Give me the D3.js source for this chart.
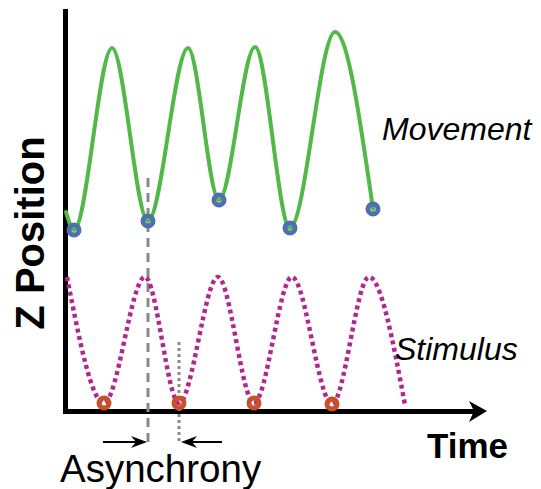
<!DOCTYPE html>
<html>
<head>
<meta charset="utf-8">
<script src="https://cdn.jsdelivr.net/npm/d3@7"></script>
<style>
  html, body { margin: 0; padding: 0; background: #fff; }
  svg { display: block; font-family: "Liberation Sans", Arial, sans-serif; }
</style>
</head>
<body>
<svg id="chart" width="541" height="489"></svg>
<script>
// ---- data (arbitrary time / Z units) ----
const movementTime = [1, 9, 47, 83, 123, 154, 190, 225, 270, 308];
const movementZ    = [199, 181, 363, 190, 363, 211, 364, 183, 379, 202];
const movementOnsetIdx = [1, 3, 5, 7, 9];

const stimulusTime = [2, 39, 80, 114, 153, 189, 227, 267, 304, 340];
const stimulusZ    = [134, 8, 134, 8, 134, 8, 134, 7, 134, 6];
const stimulusOnsetIdx = [1, 3, 5, 7];

const labels = { movement: "Movement", stimulus: "Stimulus", x: "Time", y: "Z Position", asyn: "Asynchrony" };
const asynMovementIdx = 3;   // movement onset used for asynchrony
const asynStimulusIdx = 3;   // stimulus onset used for asynchrony

// ---- layout ----
const svg = d3.select("#chart");
const x = d3.scaleLinear().domain([0, 407]).range([65, 472]);
const y = d3.scaleLinear().domain([0, 400]).range([411, 11]);

const colors = { move: "#52b848", moveDot: "#4f6fad", stim: "#b4268f", stimDot: "#c8502a", ref: "#8a8a8a" };

// axes
const yAxis = d3.axisLeft(y).ticks(0).tickSize(0).tickSizeOuter(0);
const xAxis = d3.axisBottom(x).ticks(0).tickSize(0).tickSizeOuter(0);
const gy = svg.append("g").attr("transform", `translate(${x(0)},0)`).call(yAxis);
const gx = svg.append("g").attr("transform", `translate(0,${y(0)})`).call(xAxis);
[gy, gx].forEach(g => {
  g.selectAll("text").remove();
  g.select(".domain").attr("stroke", "#000").attr("stroke-width", 5).attr("stroke-linecap", "square");
});
// x-axis arrowhead
const xe = x.range()[1];
svg.append("path")
  .attr("d", `M${xe - 3},${y(0) - 10} L${xe + 15},${y(0)} L${xe - 3},${y(0) + 11} L${xe + 2},${y(0)} Z`)
  .attr("fill", "#000");

// reference lines
const asynY = y(-31);
const mx = x(movementTime[asynMovementIdx]);
const sx = x(stimulusTime[asynStimulusIdx]);
svg.append("line")
  .attr("x1", mx).attr("x2", mx).attr("y1", y(233)).attr("y2", asynY + 1)
  .attr("stroke", colors.ref).attr("stroke-width", 3).attr("stroke-dasharray", "9,6");
svg.append("line")
  .attr("x1", sx).attr("x2", sx).attr("y1", y(69)).attr("y2", asynY + 1)
  .attr("stroke", colors.ref).attr("stroke-width", 3).attr("stroke-dasharray", "3,3");

// curves
const line = d3.line().x(d => x(d[0])).y(d => y(d[1])).curve(d3.curveMonotoneX);
const moveData = movementTime.map((t, i) => [t, movementZ[i]]);
const stimData = stimulusTime.map((t, i) => [t, stimulusZ[i]]);

svg.append("path").datum(stimData).attr("d", line)
  .attr("fill", "none").attr("stroke", colors.stim).attr("stroke-width", 4.5)
  .attr("stroke-dasharray", "4,3.5");
svg.append("path").datum(moveData).attr("d", line)
  .attr("fill", "none").attr("stroke", colors.move).attr("stroke-width", 4)
  .attr("stroke-linecap", "round");

// onset markers
svg.selectAll(".mdot").data(movementOnsetIdx).enter().append("circle")
  .attr("cx", i => x(movementTime[i])).attr("cy", i => y(movementZ[i])).attr("r", 5)
  .attr("fill", "none").attr("stroke", colors.moveDot).attr("stroke-width", 5);
svg.selectAll(".sdot").data(stimulusOnsetIdx).enter().append("circle")
  .attr("cx", i => x(stimulusTime[i])).attr("cy", i => y(stimulusZ[i]) ).attr("r", 5)
  .attr("fill", "none").attr("stroke", colors.stimDot).attr("stroke-width", 5);

// asynchrony arrows
function arrow(fromX, toX, yy) {
  const dir = toX > fromX ? 1 : -1;
  svg.append("line").attr("x1", fromX).attr("x2", toX - dir * 10).attr("y1", yy).attr("y2", yy)
    .attr("stroke", "#000").attr("stroke-width", 2);
  svg.append("path")
    .attr("d", `M${toX},${yy} L${toX - dir * 16},${yy - 6} L${toX - dir * 11},${yy} L${toX - dir * 16},${yy + 6} Z`)
    .attr("fill", "#000");
}
arrow(mx - 45, mx - 1, asynY);
arrow(sx + 43, sx + 2, asynY);

// labels
svg.append("text").attr("x", 382).attr("y", 140).attr("font-size", 32).attr("font-style", "italic")
  .attr("fill", "#000").text(labels.movement);
svg.append("text").attr("x", 395).attr("y", 360).attr("font-size", 32).attr("font-style", "italic")
  .attr("fill", "#000").text(labels.stimulus);
svg.append("text").attr("x", 427).attr("y", 458).attr("font-size", 35).attr("font-weight", "bold")
  .attr("fill", "#000").text(labels.x);
svg.append("text").attr("x", 60).attr("y", 482).attr("font-size", 38.5)
  .attr("fill", "#000").text(labels.asyn);
svg.append("text").attr("transform", "translate(44,233) rotate(-90)").attr("text-anchor", "middle")
  .attr("font-size", 40).attr("font-weight", "bold").attr("fill", "#000").text(labels.y);
</script>
</body>
</html>
